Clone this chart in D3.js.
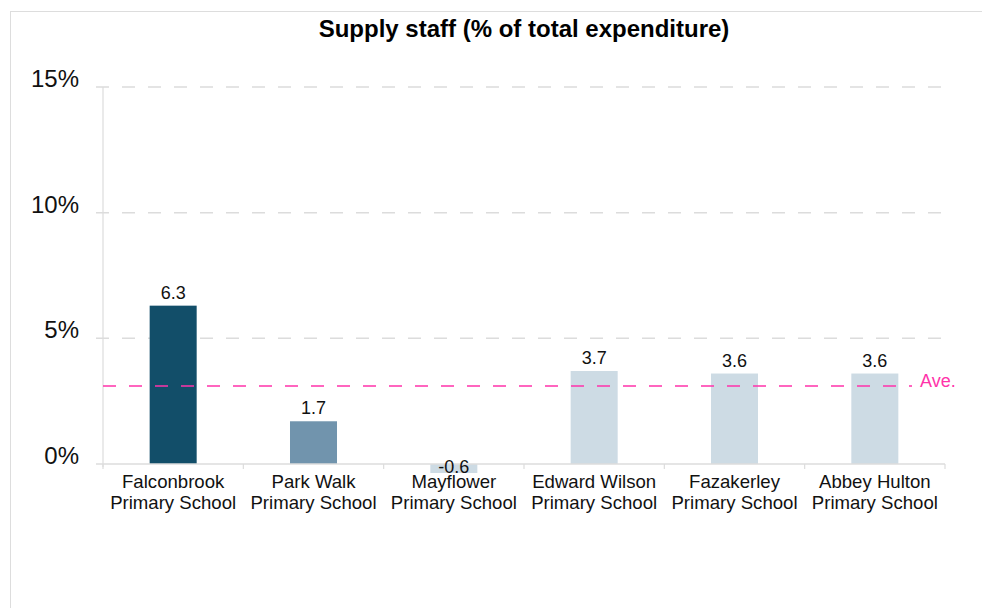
<!DOCTYPE html>
<html><head><meta charset="utf-8">
<script src="https://cdn.jsdelivr.net/npm/d3@7"></script>
<style>body{margin:0;background:#fff;} svg{display:block;font-family:"Liberation Sans",Arial,sans-serif;}</style>
</head><body>
<svg id="c" width="982" height="608"></svg>
<script>
const title = "Supply staff (% of total expenditure)";
const schools = [["Falconbrook","Primary School"],["Park Walk","Primary School"],["Mayflower","Primary School"],["Edward Wilson","Primary School"],["Fazakerley","Primary School"],["Abbey Hulton","Primary School"]];
const values = [6.3, 1.7, -0.6, 3.7, 3.6, 3.6];
const colors = ["#124e69", "#7194ad", "#cddbe4", "#cddbe4", "#cddbe4", "#cddbe4"];
const yTicks = [0, 5, 10, 15];
const average = 3.1;
const averageLabel = "Ave.";

const svg = d3.select("#c");
const L = 103, R = 945, T = 87, B = 464;
const x = d3.scaleBand().domain(d3.range(values.length)).range([L, R]).paddingInner(0.665).paddingOuter(0.3325);
const y = d3.scaleLinear().domain([0, 15]).range([B, T]);

svg.append("rect").attr("x", 10.5).attr("y", 11.5).attr("width", 1000).attr("height", 700)
  .attr("fill", "none").attr("stroke", "#dddddd");

svg.append("text").attr("x", (L + R) / 2).attr("y", 37).attr("text-anchor", "middle")
  .attr("font-weight", "bold").attr("font-size", 24).attr("fill", "#000").text(title);

// grid
svg.append("g").selectAll("line").data(yTicks.filter(d => d !== 0)).join("line")
  .attr("x1", 96).attr("x2", R).attr("y1", d => y(d)).attr("y2", d => y(d))
  .attr("stroke", "#dcdcdc").attr("stroke-width", 1.5).attr("stroke-dasharray", "13,13");

// y tick labels
svg.append("g").selectAll("text").data(yTicks).join("text")
  .attr("x", 79).attr("y", d => y(d)).attr("text-anchor", "end")
  .attr("font-size", 24).attr("fill", "#111").text(d => d + "%");

// y axis line
svg.append("line").attr("x1", L).attr("x2", L).attr("y1", T).attr("y2", B + 3)
  .attr("stroke", "#dcdcdc").attr("stroke-width", 1.2);

// clip
svg.append("clipPath").attr("id", "clip").append("rect")
  .attr("x", L).attr("y", T - 5).attr("width", R - L).attr("height", B + 9 - (T - 5));

// bars
svg.append("g").attr("clip-path", "url(#clip)").selectAll("rect").data(values).join("rect")
  .attr("x", (d, i) => x(i)).attr("width", x.bandwidth())
  .attr("y", d => y(Math.max(0, d))).attr("height", d => Math.abs(y(d) - y(0)))
  .attr("fill", (d, i) => colors[i]);

// x axis line + ticks
svg.append("line").attr("x1", 96).attr("x2", R).attr("y1", B).attr("y2", B)
  .attr("stroke", "#dcdcdc").attr("stroke-width", 1.5);
const step = x.step();
svg.append("g").selectAll("line").data(d3.range(values.length + 1)).join("line")
  .attr("x1", i => L + i * step).attr("x2", i => L + i * step)
  .attr("y1", B).attr("y2", B + 5).attr("stroke", "#dcdcdc").attr("stroke-width", 1.2);

// average line
svg.append("line").attr("x1", L).attr("x2", 912).attr("y1", y(average)).attr("y2", y(average))
  .attr("stroke", "#ff33aa").attr("stroke-width", 1.5).attr("stroke-dasharray", "13,13");
svg.append("text").attr("x", 920).attr("y", y(average) + 1).attr("font-size", 18)
  .attr("fill", "#ff33aa").text(averageLabel);

// value labels
svg.append("g").selectAll("text").data(values).join("text")
  .attr("x", (d, i) => x(i) + x.bandwidth() / 2)
  .attr("y", d => d >= 0 ? y(d) - 7 : y(0) + 9)
  .attr("text-anchor", "middle").attr("font-size", 18).attr("fill", "#111")
  .text(d => d.toFixed(1));

// category labels
const cl = svg.append("g").selectAll("text").data(schools).join("text")
  .attr("x", (d, i) => x(i) + x.bandwidth() / 2).attr("y", 488)
  .attr("text-anchor", "middle").attr("font-size", 18.6).attr("fill", "#111");
cl.selectAll("tspan").data(d => d).join("tspan")
  .attr("x", function() { return this.parentNode.getAttribute("x"); })
  .attr("dy", (d, i) => i === 0 ? 0 : 20.5).text(d => d);
</script>
</body></html>
